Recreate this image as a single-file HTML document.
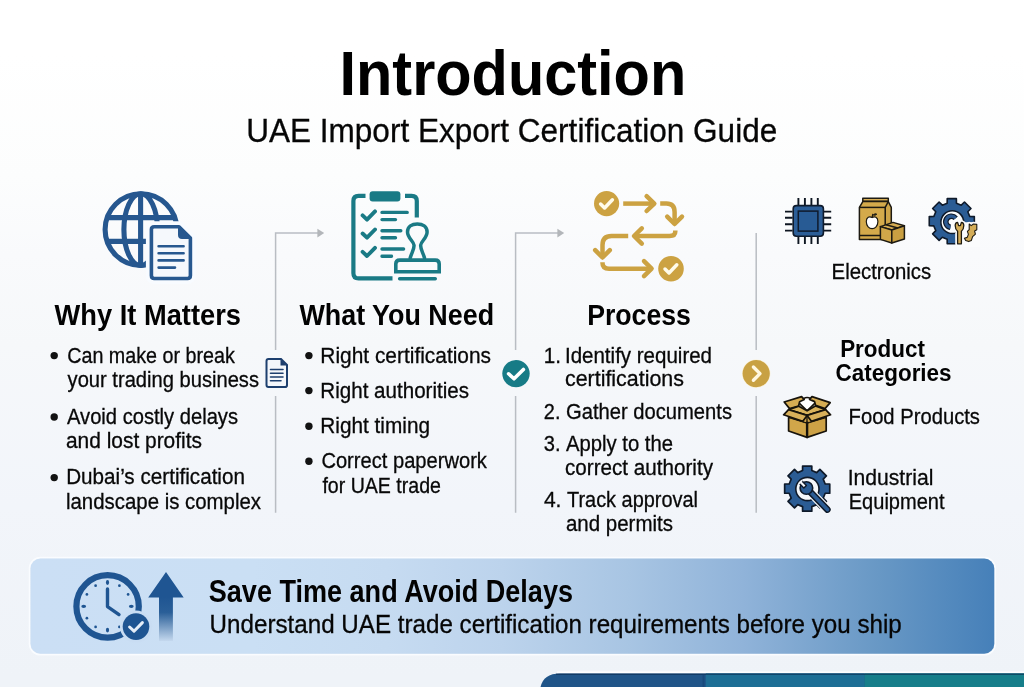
<!DOCTYPE html>
<html><head><meta charset="utf-8"><title>Introduction - UAE Import Export Certification Guide</title>
<style>
html,body{margin:0;padding:0;width:1024px;height:687px;overflow:hidden;background:#f3f6f9}
svg{display:block}
text{font-family:"Liberation Sans",sans-serif}
</style></head><body>
<svg width="1024" height="687" viewBox="0 0 1024 687">
<defs>
<linearGradient id="bg" x1="0" y1="0" x2="0" y2="1">
<stop offset="0" stop-color="#ffffff"/><stop offset="0.08" stop-color="#ffffff"/><stop offset="0.255" stop-color="#fcfdfd"/><stop offset="0.371" stop-color="#f9fafc"/><stop offset="0.502" stop-color="#f6f8fa"/><stop offset="0.735" stop-color="#f2f5fa"/><stop offset="0.983" stop-color="#eff3f8"/><stop offset="1" stop-color="#eff3f8"/>
</linearGradient>
<linearGradient id="ban" x1="30" y1="0" x2="994" y2="0" gradientUnits="userSpaceOnUse">
<stop offset="0" stop-color="#cbdff5"/><stop offset="0.23" stop-color="#cadff4"/><stop offset="0.37" stop-color="#c6dbf1"/><stop offset="0.49" stop-color="#bcd3ec"/><stop offset="0.62" stop-color="#a8c5e3"/><stop offset="0.74" stop-color="#90b3d9"/><stop offset="0.88" stop-color="#6898c5"/><stop offset="1" stop-color="#4680b9"/>
</linearGradient>
<linearGradient id="arr" x1="0" y1="597" x2="0" y2="641" gradientUnits="userSpaceOnUse">
<stop offset="0" stop-color="#1f5592"/><stop offset="0.35" stop-color="#2a5f98"/><stop offset="1" stop-color="#c4d8ee"/>
</linearGradient>
</defs>
<rect width="1024" height="687" fill="url(#bg)"/>
<path d="M947.17,203.18 L947.21,198.66 L956.39,198.66 L956.43,203.18 L961.27,205.19 L964.49,202.02 L970.98,208.51 L967.81,211.73 L969.82,216.57 L974.34,216.61 L974.34,225.79 L969.82,225.83 L967.81,230.67 L970.98,233.89 L964.49,240.38 L961.27,237.21 L956.43,239.22 L956.39,243.74 L947.21,243.74 L947.17,239.22 L942.33,237.21 L939.11,240.38 L932.62,233.89 L935.79,230.67 L933.78,225.83 L929.26,225.79 L929.26,216.61 L933.78,216.57 L935.79,211.73 L932.62,208.51 L939.11,202.02 L942.33,205.19 Z" fill="#2b5c94" stroke="#0f1a2a" stroke-width="1.6" stroke-linejoin="round"/>
<circle cx="952.3" cy="222.2" r="11.4" fill="#fbfcfd" stroke="#0f1a2a" stroke-width="1.5"/>
<path d="M955.69,218.20 A5.6,5.6 0 1 0 950.43,227.31" fill="none" stroke="#0f1a2a" stroke-width="5.6"/>
<path d="M955.69,218.20 A5.6,5.6 0 1 0 950.43,227.31" fill="none" stroke="#2d5a92" stroke-width="3.2"/>
<path d="M955.6,223.2 Q960,222.4 964.5,222.2 H980 V247 H955.6 Z" fill="#fbfcfd"/>
<path d="M955.2,225.6 Q955.2,222.6 957.6,222.4 L958.6,225.6 H960.4 L961.4,222.4 Q963.8,222.6 963.8,225.6 Q963.8,229.4 961.4,231.2 V243.8 H957.6 V231.2 Q955.2,229.4 955.2,225.6 Z" fill="#fbfcfd" stroke="#fbfcfd" stroke-width="4.5" stroke-linejoin="round"/>
<path d="M969.2,224 L971.2,225.6 L973.4,224 L976.8,224.4 V229.8 L974.6,231 L975.4,234.2 L972.6,236.6 L971.4,240.4 L968.6,241.6 L965.8,240.6 L964.4,238.2 L967.2,237.4 L968.4,234.4 L967.4,231.4 L969.2,229.6 Z" fill="#fbfcfd" stroke="#fbfcfd" stroke-width="4.5" stroke-linejoin="round"/>
<path d="M955.2,225.6 Q955.2,222.6 957.6,222.4 L958.6,225.6 H960.4 L961.4,222.4 Q963.8,222.6 963.8,225.6 Q963.8,229.4 961.4,231.2 V243.8 H957.6 V231.2 Q955.2,229.4 955.2,225.6 Z" fill="#d4ad58" stroke="#1f1b12" stroke-width="1.3" stroke-linejoin="round"/>
<path d="M969.2,224 L971.2,225.6 L973.4,224 L976.8,224.4 V229.8 L974.6,231 L975.4,234.2 L972.6,236.6 L971.4,240.4 L968.6,241.6 L965.8,240.6 L964.4,238.2 L967.2,237.4 L968.4,234.4 L967.4,231.4 L969.2,229.6 Z" fill="#d4ad58" stroke="#1f1b12" stroke-width="1.1" stroke-linejoin="round"/>
<g stroke="#17130b" stroke-width="1.7" stroke-linejoin="round">
<path d="M798.4,402.4 Q799.4,397.6 803.6,398.6 Q807,396.4 810.6,398.6 Q815,397.6 815.8,402.4 L807.1,410.8 Z" fill="#ffffff"/>
<path d="M784.2,402 L801.6,396.6 L804.2,399.6 L799.6,401.8 L798.6,406 L789.6,408.6 Z" fill="#d6ad53"/>
<path d="M812,396.6 L830.2,402.6 L825,408.6 L815.6,405.4 L814.6,401.6 L809.6,399.4 Z" fill="#d6ad53"/>
<path d="M788.6,409.6 L798.8,406.2 L807.1,410.8 L815.4,406 L825.6,409.6 L807.1,415.4 Z" fill="#d9b35c"/>
<path d="M788.6,417.2 L807.1,423 V437.4 L788.6,431 Z" fill="#d1a64a"/>
<path d="M807.1,423 L826.2,417.2 V431 L807.1,437.4 Z" fill="#cca146"/>
<path d="M788.6,409.6 L807.1,415.4 V423 L788.6,417.2 Z" fill="#d1a64a" stroke-width="1"/>
<path d="M807.1,415.4 L825.6,409.6 L826.2,417.2 L807.1,423 Z" fill="#cca146" stroke-width="1"/>
<path d="M788.6,409.6 L783.6,414.8 L802.8,421.2 L807.1,415.4 Z" fill="#d8b05a"/>
<path d="M807.1,415.4 L811.4,421.2 L830.6,414.8 L825.6,409.6 Z" fill="#d8b05a"/>
<path d="M807.1,421.6 V437" fill="none" stroke-width="2.4"/>
</g>
<path d="M802.57,470.58 L802.61,466.06 L811.79,466.06 L811.83,470.58 L816.67,472.59 L819.89,469.42 L826.38,475.91 L823.21,479.13 L825.22,483.97 L829.74,484.01 L829.74,493.19 L825.22,493.23 L823.21,498.07 L826.38,501.29 L819.89,507.78 L816.67,504.61 L811.83,506.62 L811.79,511.14 L802.61,511.14 L802.57,506.62 L797.73,504.61 L794.51,507.78 L788.02,501.29 L791.19,498.07 L789.18,493.23 L784.66,493.19 L784.66,484.01 L789.18,483.97 L791.19,479.13 L788.02,475.91 L794.51,469.42 L797.73,472.59 Z" fill="#2b5c94" stroke="#0f1a2a" stroke-width="1.7" stroke-linejoin="round"/>
<circle cx="807.4" cy="489" r="11.6" fill="#f6f8fb" stroke="#0f1a2a" stroke-width="1.6"/>
<path d="M809,490.6 L827.4,509.6" stroke="#f6f8fb" stroke-width="9" stroke-linecap="round"/>
<path d="M809,490.6 L827.4,509.6" stroke="#0f1a2a" stroke-width="6.6" stroke-linecap="round"/>
<path d="M809,490.6 L827.4,509.6" stroke="#2b5c94" stroke-width="3.6" stroke-linecap="round"/>
<circle cx="806.4" cy="488" r="6.3" fill="#2b5c94" stroke="#0f1a2a" stroke-width="1.6"/>
<path d="M799.12,483.26 L803.85,488.00 L806.40,485.45 L801.66,480.72" fill="#f6f8fb" stroke="#0f1a2a" stroke-width="1.4" stroke-linejoin="round"/>
<path d="M798.62,483.90 L802.30,480.22" stroke="#f6f8fb" stroke-width="1.6"/>
<rect x="29.5" y="557.6" width="965.8" height="97.2" rx="11" fill="none" stroke="#fbfdff" stroke-width="1.6" opacity="0.9"/>
<rect x="30.5" y="558.6" width="963.8" height="95.2" rx="10" fill="url(#ban)"/>
<circle cx="107.6" cy="606.4" r="31.2" fill="none" stroke="#1f5592" stroke-width="6.2"/>
<ellipse cx="107.50" cy="582.50" rx="1.6" ry="2.4" transform="rotate(0 107.50 582.50)" fill="#1f5592"/><circle cx="119.40" cy="585.69" r="1.35" fill="#1f5592"/><circle cx="128.11" cy="594.40" r="1.35" fill="#1f5592"/><ellipse cx="131.30" cy="606.30" rx="1.6" ry="2.4" transform="rotate(90 131.30 606.30)" fill="#1f5592"/><circle cx="119.40" cy="626.91" r="1.35" fill="#1f5592"/><ellipse cx="107.50" cy="630.10" rx="1.6" ry="2.4" transform="rotate(180 107.50 630.10)" fill="#1f5592"/><circle cx="95.60" cy="626.91" r="1.35" fill="#1f5592"/><circle cx="86.89" cy="618.20" r="1.35" fill="#1f5592"/><ellipse cx="83.70" cy="606.30" rx="1.6" ry="2.4" transform="rotate(270 83.70 606.30)" fill="#1f5592"/><circle cx="86.89" cy="594.40" r="1.35" fill="#1f5592"/><circle cx="95.60" cy="585.69" r="1.35" fill="#1f5592"/>
<path d="M107.5,589 V606.6 L119,614.6" fill="none" stroke="#1f5592" stroke-width="3.4" stroke-linecap="round" stroke-linejoin="round"/>
<circle cx="136" cy="626.6" r="16" fill="#c9ddf3"/>
<circle cx="136" cy="626.6" r="13.3" fill="#1f5592"/>
<path d="M129.6,627 L134,631.2 L142.4,622.6" fill="none" stroke="#e6eef8" stroke-width="3" stroke-linecap="round" stroke-linejoin="round"/>
<path d="M166,572 L183.7,597.4 H172.9 V641 H159 V597.4 H148.2 Z" fill="url(#arr)"/>
<path d="M560,673.4 H1024 V700 H540 V693 Q540,673.4 560,673.4 Z" fill="#1f5488"/>
<rect x="705.8" y="673.4" width="158.7" height="20" fill="#1d6e95"/>
<rect x="864.5" y="673.4" width="160" height="20" fill="#167e8a"/>
<path d="M557,672.3 H1024" stroke="#ffffff" stroke-width="1.6" opacity="0.9"/>
<path d="M556,674.3 H1024" stroke="#06254a" stroke-width="1.4" opacity="0.55"/>
<path d="M703.5,674 V687" stroke="#123f70" stroke-width="2" opacity="0.5"/>
<!-- dividers -->
<g stroke="#b9bdc3" stroke-width="1.5" fill="none">
<path d="M275.6,512.8 V396 M275.6,350 V233.1 H318"/>
<path d="M515.6,512.8 V396 M515.6,350 V233.1 H558"/>
<path d="M756.2,512.8 V396 M756.2,350 V233"/>
</g>
<path d="M317.4,228.8 L324.2,233.1 L317.4,237.6 Z" fill="#b3b6ba"/>
<path d="M557.4,228.8 L564.2,233.1 L557.4,237.6 Z" fill="#b3b6ba"/>

<!-- small doc on divider 1 -->
<g>
<path d="M266.5,361 Q266.5,359 268.5,359 H281 L287,365 V385.2 Q287,387 285,387 H268.5 Q266.5,387 266.5,385 Z" fill="#f4f7fb" stroke="#1d3f6e" stroke-width="2"/>
<path d="M280.5,359.2 L286.8,365.5 H280.5 Z" fill="#1d3f6e"/>
<g stroke="#1d3f6e" stroke-width="1.6" stroke-linecap="round"><path d="M270.5,369.5 H283 M270.5,373.3 H283 M270.5,377 H283 M270.5,380.8 H281"/></g>
</g>

<!-- teal check circle -->
<circle cx="516" cy="373.6" r="13.7" fill="#177b86"/>
<path d="M508.6,373.8 L514,378.8 L523.4,369.4" fill="none" stroke="#fff" stroke-width="3.6" stroke-linecap="round" stroke-linejoin="round"/>

<!-- gold chevron circle -->
<circle cx="756.2" cy="373.6" r="14.2" fill="#fbf1d6"/>
<circle cx="756.2" cy="373.6" r="13.6" fill="#c8a143"/>
<path d="M753.4,367 L760,373.6 L753.4,380.3" fill="none" stroke="#fff8e2" stroke-width="3.4" stroke-linecap="round" stroke-linejoin="round"/>

<!-- globe + doc icon -->
<g fill="none" stroke="#26578f" stroke-width="5.1">
<circle cx="141" cy="229.6" r="35.9"/>
<ellipse cx="140.7" cy="229.6" rx="16.8" ry="35.9"/>
<path d="M140.6,194 V265"/>
<path d="M107.5,217.6 H174.5 M107.5,241.4 H174.5"/>
</g>
<g>
<path d="M151.4,229.5 Q151.4,226.8 154.2,226.8 H179 L190.4,238 V275.6 Q190.4,278.5 187.6,278.5 H154.2 Q151.4,278.5 151.4,275.6 Z" fill="#fff" stroke="#f8fbff" stroke-width="11"/>
<path d="M151.4,229.5 Q151.4,226.8 154.2,226.8 H179 L190.4,238 V275.6 Q190.4,278.5 187.6,278.5 H154.2 Q151.4,278.5 151.4,275.6 Z" fill="#f5f8fc" stroke="#27588f" stroke-width="3.6" stroke-linejoin="round"/>
<path d="M179,226.8 L190.4,238 H182 Q179,238 179,235 Z" fill="#27588f" stroke="#27588f" stroke-width="2" stroke-linejoin="round"/>
<g stroke="#27588f" stroke-width="2.6" stroke-linecap="round"><path d="M158.6,246.2 H183.6 M158.6,253.2 H183.6 M158.6,260.4 H183.6 M158.6,267.6 H175"/></g>
</g>

<!-- clipboard icon -->
<g fill="none" stroke="#1a7a85" stroke-width="3.4" stroke-linecap="round" stroke-linejoin="round">
<path d="M365.5,195.8 H358.6 Q353.4,195.8 353.4,201 V273.2 Q353.4,278.4 358.6,278.4 H392.5" stroke-width="4.2" stroke-linecap="butt"/>
<path d="M405,195.8 H411.6 Q416.8,195.8 416.8,201 V217.5" stroke-width="4.2" stroke-linecap="butt"/>
<path d="M362.6,215.4 L367,219.6 L375,211.4 M362.6,233.5 L367,237.7 L375,229.5 M362.6,251.8 L367,256 L375,247.8" stroke-width="3.9"/>
<path d="M382,212.4 H407.2 M382,219.6 H395.5 M382,230.8 H400.8 M382,237.7 H395.5 M382,249 H403.6 M382,256.3 H391.5"/>
<path d="M410.2,258 C411.4,253 414.4,249.4 414,245.2 C413.6,241 407.5,238 407.5,232 C407.5,226.4 412,223.9 417.3,223.9 C422.6,223.9 427.1,226.4 427.1,232 C427.1,238 421.1,241 420.7,245.2 C420.3,249.4 423.3,253 424.5,258" stroke-width="3.5"/>
<path d="M395.8,271.8 V264 Q395.8,260.1 399.7,260.1 H435.3 Q439.2,260.1 439.2,264 V271.8 Z" stroke-width="3.6" stroke-linejoin="miter"/>
<path d="M399.6,278.7 H435.3" stroke-width="3.4"/>
</g>
<rect x="369.6" y="191.2" width="30.8" height="10.4" rx="3" fill="#1a7a85"/>

<!-- process icon -->
<g fill="none" stroke="#cca242" stroke-width="4.5" stroke-linecap="butt" stroke-linejoin="round">
<path d="M623.2,203.6 H653.5"/>
<path d="M660.2,203.6 H666.5 Q674.6,203.6 674.6,212 V223"/>
<path d="M675.3,230.6 V231.5 Q675.3,236 669.5,236 H635"/>
<path d="M628.2,236 H611.5 Q602.5,236 602.5,245 V257"/>
<path d="M602.5,262.2 V263 Q602.5,268.7 609,268.7 H651"/>
</g>
<g fill="none" stroke="#cca242" stroke-width="4.5" stroke-linecap="round" stroke-linejoin="round">
<path d="M646.6,196.2 L654.3,203.6 L646.6,211"/>
<path d="M667.2,216.6 L674.6,224 L682,216.6"/>
<path d="M641.8,228.4 L634,236 L641.8,243.6"/>
<path d="M595.2,250.2 L602.5,257.5 L609.8,250.2"/>
<path d="M644,261.2 L651.6,268.7 L644,276.2"/>
</g>
<circle cx="606.6" cy="203.6" r="12.6" fill="#cca242"/>
<circle cx="671" cy="268.7" r="12.8" fill="#cca242"/>
<g fill="none" stroke="#fffbea" stroke-width="3.5" stroke-linecap="round" stroke-linejoin="round">
<path d="M600.6,204 L604.6,208 L612.4,199.8"/>
<path d="M665,269 L669,273 L676.8,264.8"/>
</g>

<!-- chip icon -->
<g stroke="#0e1621" stroke-width="1.9" fill="none">
<path d="M798.4,198 V205 M804.9,198 V205 M811.4,198 V205 M817.8,198 V205"/>
<path d="M798.4,236.5 V244 M804.9,236.5 V244 M811.4,236.5 V244 M817.8,236.5 V244"/>
<path d="M785,211.6 H792.6 M785,217.8 H792.6 M785,224.2 H792.6 M785,230.6 H792.6"/>
<path d="M823.8,211.6 H831.2 M823.8,217.8 H831.2 M823.8,224.2 H831.2 M823.8,230.6 H831.2"/>
</g>
<rect x="793.2" y="205.6" width="30.2" height="30.6" rx="3.2" fill="#2c5e97" stroke="#0f1b2c" stroke-width="1.6"/>
<rect x="798.3" y="211.1" width="19.6" height="20" fill="#285b94" stroke="#0f1b2c" stroke-width="1.5"/>

<!-- food bag + box icon -->
<g stroke="#1d1a12" stroke-width="1.5" stroke-linejoin="round">
<path d="M862.8,198.2 H888.3 V201.6 H862.8 Z" fill="#d9b056"/>
<path d="M862.8,201.6 H888.3 L891.3,207.4 V239.4 H885 V207.4 Z" fill="#cfa548"/>
<path d="M862.8,201.6 L859.4,207.4 V239.4 H885.2 V207.4 L888.3,201.6 Z" fill="#d4aa4b"/>
<path d="M859.4,207.4 H885.2" fill="none"/>
<path d="M859.4,235.5 H885.2" fill="none"/>
</g>
<path d="M866.3,221.6 C866.3,217.2 869.5,216 872.1,217.6 C874.7,216 877.9,217.2 877.9,221.6 C877.9,226.2 875,228.6 872.1,228.6 C869.2,228.6 866.3,226.2 866.3,221.6 Z" fill="#fff" stroke="#1d1a12" stroke-width="1.2"/>
<path d="M872.1,217.6 L872.9,213.8" stroke="#1d1a12" stroke-width="1.3" fill="none"/>
<path d="M873.1,215 Q875.4,212.6 877,214.2 Q875,216.2 873.1,215 Z" fill="#2a2a1a" stroke="#1d1a12" stroke-width="0.6"/>
<g stroke="#1d1a12" stroke-width="1.5" stroke-linejoin="round">
<path d="M880.4,226.6 L893,222.4 L904.4,225.8 L891.8,230 Z" fill="#d7ad52"/>
<path d="M880.4,226.6 L891.8,230 V243 L880.4,239.4 Z" fill="#d1a749"/>
<path d="M891.8,230 L904.4,225.8 V239 L891.8,243 Z" fill="#c99f42"/>
<path d="M886,224.8 L897.8,228" fill="none"/>
</g>


<g style="will-change:transform">
<text x="339.51" y="95.30" font-size="63.37" font-weight="bold" fill="#000000" textLength="346.70" lengthAdjust="spacingAndGlyphs">Introduction</text>
<text x="246.18" y="142.00" font-size="32.70" stroke="#060606" stroke-width="0.3" fill="#060606" textLength="531.04" lengthAdjust="spacingAndGlyphs">UAE Import Export Certification Guide</text>
<text x="54.59" y="324.70" font-size="29.80" font-weight="bold" fill="#020202" textLength="186.39" lengthAdjust="spacingAndGlyphs">Why It Matters</text>
<text x="299.40" y="324.70" font-size="29.80" font-weight="bold" fill="#020202" textLength="194.67" lengthAdjust="spacingAndGlyphs">What You Need</text>
<text x="587.14" y="324.70" font-size="29.80" font-weight="bold" fill="#020202" textLength="103.75" lengthAdjust="spacingAndGlyphs">Process</text>
<text x="67.19" y="362.80" font-size="21.51" stroke="#080808" stroke-width="0.3" fill="#080808" textLength="167.70" lengthAdjust="spacingAndGlyphs">Can make or break</text>
<text x="67.59" y="387.20" font-size="21.51" stroke="#080808" stroke-width="0.3" fill="#080808" textLength="191.43" lengthAdjust="spacingAndGlyphs">your trading business</text>
<text x="67.00" y="424.00" font-size="21.51" stroke="#080808" stroke-width="0.3" fill="#080808" textLength="171.03" lengthAdjust="spacingAndGlyphs">Avoid costly delays</text>
<text x="65.98" y="448.30" font-size="21.51" stroke="#080808" stroke-width="0.3" fill="#080808" textLength="136.00" lengthAdjust="spacingAndGlyphs">and lost profits</text>
<text x="66.17" y="484.20" font-size="21.51" stroke="#080808" stroke-width="0.3" fill="#080808" textLength="178.79" lengthAdjust="spacingAndGlyphs">Dubai’s certification</text>
<text x="65.99" y="509.00" font-size="21.51" stroke="#080808" stroke-width="0.3" fill="#080808" textLength="195.04" lengthAdjust="spacingAndGlyphs">landscape is complex</text>
<text x="320.36" y="362.60" font-size="21.51" stroke="#080808" stroke-width="0.3" fill="#080808" textLength="170.65" lengthAdjust="spacingAndGlyphs">Right certifications</text>
<text x="320.36" y="397.50" font-size="21.51" stroke="#080808" stroke-width="0.3" fill="#080808" textLength="148.69" lengthAdjust="spacingAndGlyphs">Right authorities</text>
<text x="320.34" y="433.00" font-size="21.51" stroke="#080808" stroke-width="0.3" fill="#080808" textLength="109.68" lengthAdjust="spacingAndGlyphs">Right timing</text>
<text x="321.39" y="468.00" font-size="21.51" stroke="#080808" stroke-width="0.3" fill="#080808" textLength="165.53" lengthAdjust="spacingAndGlyphs">Correct paperwork</text>
<text x="322.39" y="492.80" font-size="21.51" stroke="#080808" stroke-width="0.3" fill="#080808" textLength="118.59" lengthAdjust="spacingAndGlyphs">for UAE trade</text>
<text x="543.80" y="362.80" font-size="21.51" stroke="#080808" stroke-width="0.3" fill="#080808" textLength="17.19" lengthAdjust="spacingAndGlyphs">1.</text>
<text x="564.96" y="362.60" font-size="21.51" stroke="#080808" stroke-width="0.3" fill="#080808" textLength="147.09" lengthAdjust="spacingAndGlyphs">Identify required</text>
<text x="564.98" y="385.60" font-size="21.51" stroke="#080808" stroke-width="0.3" fill="#080808" textLength="118.99" lengthAdjust="spacingAndGlyphs">certifications</text>
<text x="543.87" y="419.00" font-size="21.51" stroke="#080808" stroke-width="0.3" fill="#080808" textLength="16.63" lengthAdjust="spacingAndGlyphs">2.</text>
<text x="565.98" y="418.60" font-size="21.51" stroke="#080808" stroke-width="0.3" fill="#080808" textLength="166.06" lengthAdjust="spacingAndGlyphs">Gather documents</text>
<text x="543.84" y="451.30" font-size="21.51" stroke="#080808" stroke-width="0.3" fill="#080808" textLength="16.74" lengthAdjust="spacingAndGlyphs">3.</text>
<text x="565.98" y="451.30" font-size="21.51" stroke="#080808" stroke-width="0.3" fill="#080808" textLength="107.06" lengthAdjust="spacingAndGlyphs">Apply to the</text>
<text x="564.99" y="475.00" font-size="21.51" stroke="#080808" stroke-width="0.3" fill="#080808" textLength="148.00" lengthAdjust="spacingAndGlyphs">correct authority</text>
<text x="543.89" y="507.00" font-size="21.51" stroke="#080808" stroke-width="0.3" fill="#080808" textLength="17.55" lengthAdjust="spacingAndGlyphs">4.</text>
<text x="567.00" y="507.00" font-size="21.51" stroke="#080808" stroke-width="0.3" fill="#080808" textLength="131.05" lengthAdjust="spacingAndGlyphs">Track approval</text>
<text x="565.98" y="530.80" font-size="21.51" stroke="#080808" stroke-width="0.3" fill="#080808" textLength="107.03" lengthAdjust="spacingAndGlyphs">and permits</text>
<circle cx="54.2" cy="355.6" r="3.7" fill="#121212"/>
<circle cx="54.2" cy="417" r="3.7" fill="#121212"/>
<circle cx="54.2" cy="477.6" r="3.7" fill="#121212"/>
<circle cx="308.9" cy="355.6" r="3.7" fill="#121212"/>
<circle cx="308.9" cy="390.6" r="3.7" fill="#121212"/>
<circle cx="308.9" cy="426.2" r="3.7" fill="#121212"/>
<circle cx="308.9" cy="461.2" r="3.7" fill="#121212"/>
<text x="831.55" y="279.20" font-size="22.38" stroke="#080808" stroke-width="0.3" fill="#080808" textLength="99.68" lengthAdjust="spacingAndGlyphs">Electronics</text>
<text x="840.15" y="357.20" font-size="23.98" font-weight="bold" fill="#020202" textLength="84.83" lengthAdjust="spacingAndGlyphs">Product</text>
<text x="835.58" y="381.30" font-size="23.98" font-weight="bold" fill="#020202" textLength="116.00" lengthAdjust="spacingAndGlyphs">Categories</text>
<text x="848.56" y="423.60" font-size="22.38" stroke="#080808" stroke-width="0.3" fill="#080808" textLength="131.41" lengthAdjust="spacingAndGlyphs">Food Products</text>
<text x="847.69" y="485.20" font-size="22.38" stroke="#080808" stroke-width="0.3" fill="#080808" textLength="85.72" lengthAdjust="spacingAndGlyphs">Industrial</text>
<text x="848.76" y="509.20" font-size="22.38" stroke="#080808" stroke-width="0.3" fill="#080808" textLength="95.83" lengthAdjust="spacingAndGlyphs">Equipment</text>
<text x="208.79" y="601.60" font-size="30.96" font-weight="bold" fill="#020202" textLength="364.19" lengthAdjust="spacingAndGlyphs">Save Time and Avoid Delays</text>
<text x="209.59" y="632.80" font-size="25.44" stroke="#060606" stroke-width="0.3" fill="#060606" textLength="692.25" lengthAdjust="spacingAndGlyphs">Understand UAE trade certification requirements before you ship</text>
</g>
</svg>
</body></html>
